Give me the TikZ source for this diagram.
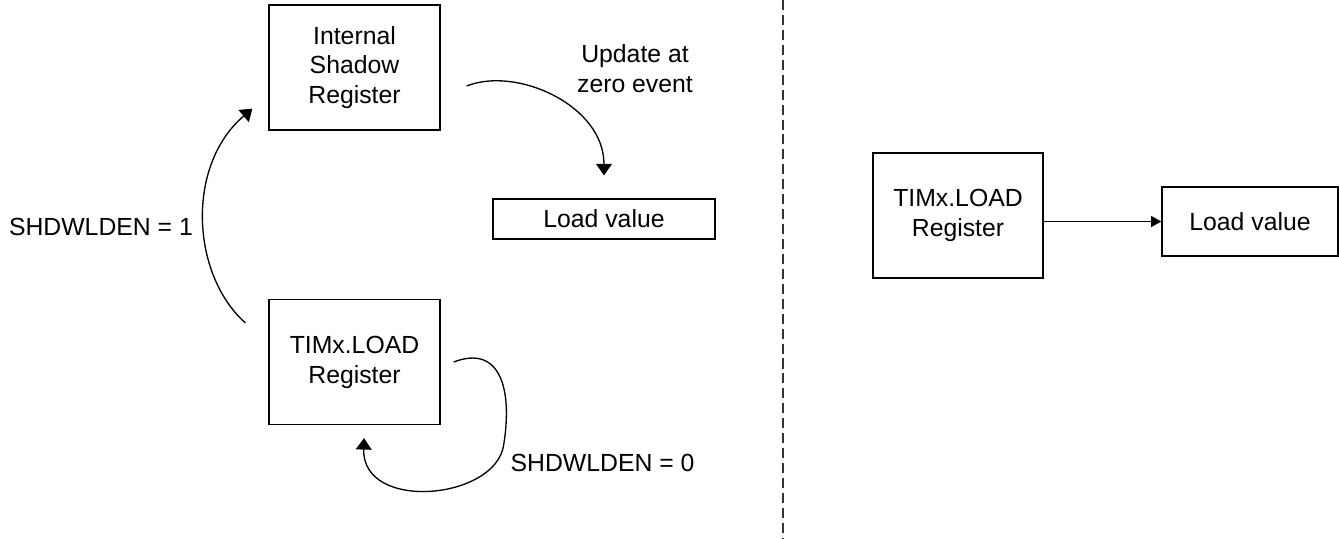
\documentclass[tikz,border=0pt]{standalone}
\usepackage{fontspec}
\setmainfont{Liberation Sans}
\usetikzlibrary{arrows.meta}

\begin{document}
\begin{tikzpicture}[node distance=2cm, >={Triangle[length=6.5pt,width=9pt]}, line width=0.75pt,
    font=\fontsize{14.1pt}{17pt}\selectfont,
    regbox/.style={draw, rectangle, align=center, minimum width=3.42cm, minimum height=2.5cm}]
    \useasboundingbox (0,0) rectangle (26.78,-10.76);

    \node [regbox] (shadow) at (7.09,-1.35) {Internal\\Shadow\\Register};
    \node [regbox, below of=shadow, node distance=5.89cm] (timx) {TIMx.LOAD\\Register};
    \node [draw, rectangle, minimum width=4.44cm, minimum height=0.8cm] (loadA) at (12.08,-4.38) {Load value};
    \node [align=center] (update) at (12.7,-1.38) {Update at\\zero event};
    \node [anchor=east, inner sep=0pt] (shd1) at (3.87,-4.54) {SHDWLDEN = 1};
    \node [anchor=west, inner sep=0pt] (shd0) at (10.2,-9.26) {SHDWLDEN = 0};

    \node [regbox, minimum width=3.4cm] (timxR) at (19.16,-4.31) {TIMx.LOAD\\Register};
    \node [draw, rectangle, minimum width=3.52cm, minimum height=1.38cm] (loadR) at (25.0,-4.43) {Load value};

    \coordinate (divtop) at (15.66,0);
    \coordinate (divbot) at (15.66,-10.76);
    \coordinate (loopr) at ([shift={(1.26,-1.66)}]timx.east);

    \draw [->] ([shift={(-0.46,-0.48)}]timx.north west) .. controls +(-1.08,0.96) and +(-1.34,-1.14) .. ([shift={(-0.32,0.44)}]shadow.south west);
    \draw [->] ([shift={(0.52,-0.37)}]shadow.east) .. controls +(1.0,0.4) and +(0,1.4) .. ([yshift=0.46cm]loadA.north);
    \draw ([xshift=0.26cm]timx.east) .. controls +(0.94,0.36) and +(0.18,1.1) .. (loopr);
    \draw [->] (loopr) .. controls +(-0.16,-1.1) and +(-0.04,-1.48) .. ([shift={(0.19,-0.26)}]timx.south);
    \draw [-{Triangle[length=5.8pt,width=6.2pt]}] (timxR.east |- loadR.west) -- (loadR.west);
    \draw [dash pattern=on 5.7pt off 2.8pt, line width=0.6pt, black!80] (divtop) -- (divbot);
\end{tikzpicture}
\end{document}
